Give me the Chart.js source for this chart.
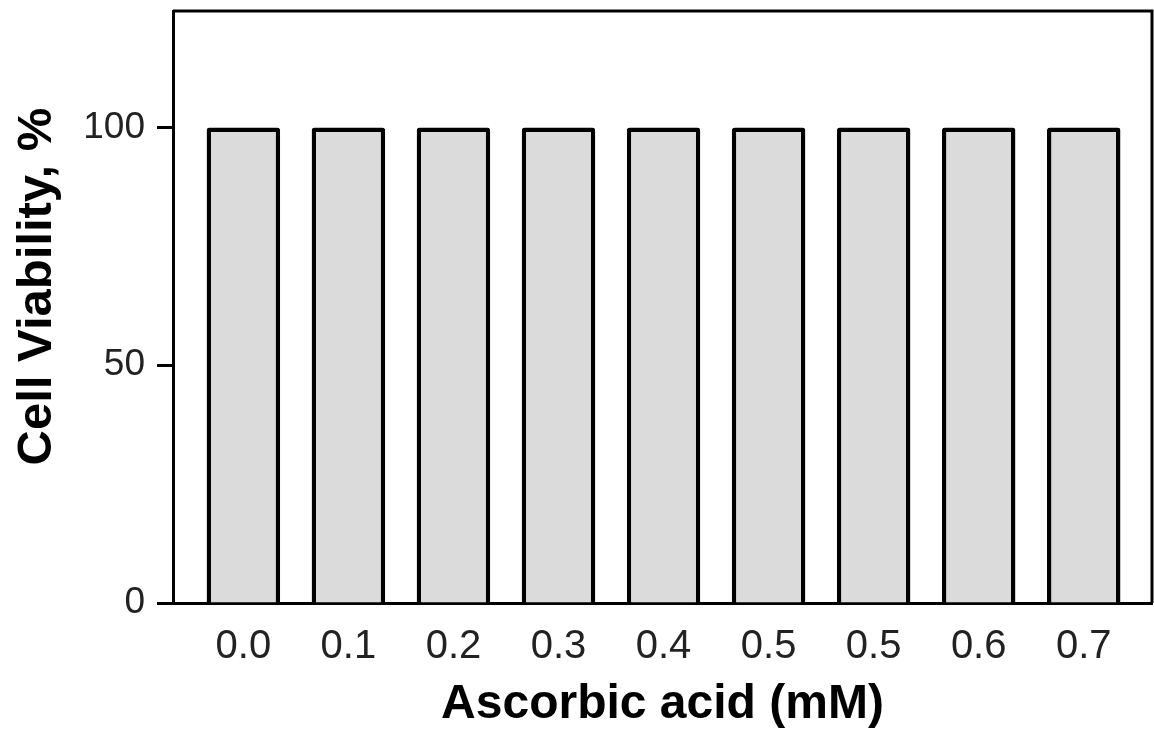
<!DOCTYPE html>
<html>
<head>
<meta charset="utf-8">
<script src="https://cdn.jsdelivr.net/npm/chart.js@4/dist/chart.umd.min.js"></script>
<style>
  html, body { margin: 0; padding: 0; background: #fff; }
  #wrap { width: 1154px; height: 734px; }
</style>
</head>
<body>
<div id="wrap"><canvas id="barChart" width="1154" height="734"></canvas></div>
<script>
// ─── Data ────────────────────────────────────────────────────────────────
const categories = ['0.0', '0.1', '0.2', '0.3', '0.4', '0.5', '0.5', '0.6', '0.7'];
const viability  = [100, 100, 100, 100, 100, 100, 100, 100, 100];
const yTicks     = [0, 50, 100];

const FONT = "'Liberation Sans', Arial, Helvetica, sans-serif";

// top + right edges of the frame
const framePlugin = {
    id: 'frame',
    afterDraw(chart) {
        const { ctx, chartArea: a } = chart;
        ctx.save();
        ctx.strokeStyle = '#000';
        ctx.lineWidth = 3;
        ctx.beginPath();
        ctx.moveTo(a.left, a.top);
        ctx.lineTo(a.right, a.top);
        ctx.lineTo(a.right, a.bottom);
        ctx.stroke();
        ctx.restore();
    }
};

new Chart(document.getElementById('barChart'), {
    type: 'bar',
    data: {
        datasets: [{
            data: viability.map((v, i) => ({ x: i, y: v })),
            backgroundColor: '#dbdbdb',
            borderColor: '#000',
            borderWidth: 4.5,
            borderRadius: 3,
            borderSkipped: 'start',
            barPercentage: 0.7,
            categoryPercentage: 1
        }]
    },
    options: {
        responsive: false,
        animation: false,
        layout: { padding: { top: 11, right: 2, left: 0, bottom: 0 } },
        plugins: {
            legend: { display: false },
            tooltip: { enabled: false }
        },
        scales: {
            x: {
                type: 'linear',
                offset: false,
                min: -0.67,
                max: 8.65,
                afterFit: s => { s.height = 131; s.paddingLeft = 0; s.paddingRight = 0; },
                afterBuildTicks: s => { s.ticks = categories.map((c, i) => ({ value: i })); },
                grid: { display: false, drawTicks: false },
                border: { display: true, color: '#000', width: 3 },
                ticks: {
                    padding: 20,
                    autoSkip: false,
                    maxRotation: 0,
                    color: '#222',
                    font: { family: FONT, size: 40 },
                    callback: v => categories[v]
                },
                title: {
                    display: true,
                    text: 'Ascorbic acid (mM)',
                    color: '#000',
                    font: { family: FONT, size: 48, weight: 'bold', lineHeight: 1.2 },
                    padding: { top: 0, bottom: 0 }
                }
            },
            y: {
                min: 0,
                max: 124.5,
                afterFit: s => { s.width = 173; s.paddingTop = 0; s.paddingBottom = 0; },
                afterBuildTicks: s => { s.ticks = yTicks.map(v => ({ value: v })); },
                grid: {
                    drawOnChartArea: false,
                    drawTicks: true,
                    tickLength: 16,
                    tickWidth: 3,
                    tickColor: '#000'
                },
                border: { display: true, color: '#000', width: 3 },
                ticks: {
                    padding: 12,
                    color: '#222',
                    font: { family: FONT, size: 37 }
                },
                title: {
                    display: true,
                    text: '\u00a0\u00a0\u00a0Cell Viability, %',
                    color: '#000',
                    font: { family: FONT, size: 49, weight: 'bold', lineHeight: 1.2 },
                    padding: { top: 8, bottom: 0 }
                }
            }
        }
    },
    plugins: [framePlugin]
});
</script>
</body>
</html>
